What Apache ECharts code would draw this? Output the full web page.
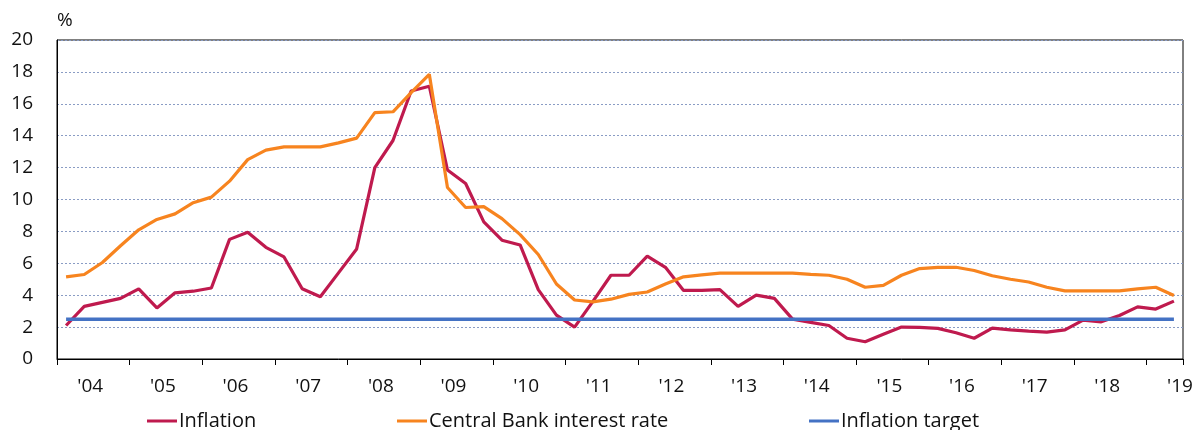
<!DOCTYPE html>
<html>
<head>
<meta charset="utf-8">
<script src="https://cdn.jsdelivr.net/npm/echarts@6/dist/echarts.min.js"></script>
<style>
  html, body { margin: 0; padding: 0; background: #fff; }
  #chart { width: 1200px; height: 430px; }
</style>
</head>
<body>
<div id="chart"></div>
<script>
// Quarterly observations, 2004 Q1 – 2019 Q2
const quarters = [];
for (let y = 2004; y <= 2019; y++) {
  for (let q = 1; q <= 4; q++) {
    if (y === 2019 && q > 2) break;
    quarters.push(y + ' Q' + q);
  }
}

// Year labels shown under the axis
const yearLabels = ["'04", "'05", "'06", "'07", "'08", "'09", "'10", "'11",
                    "'12", "'13", "'14", "'15", "'16", "'17", "'18", "'19"];

// Consumer price inflation, % y/y
const inflation = [
  2.1, 3.3, 3.55, 3.8, 4.4, 3.2, 4.15, 4.25,
  4.45, 7.5, 7.95, 7.0, 6.4, 4.4, 3.9, 5.4,
  6.9, 12.0, 13.7, 16.8, 17.1, 11.85, 11.0, 8.6,
  7.45, 7.15, 4.35, 2.75, 2.0, 3.6, 5.25, 5.25,
  6.45, 5.75, 4.3, 4.3, 4.35, 3.3, 4.0, 3.8,
  2.5, 2.3, 2.1, 1.3, 1.08, 1.55, 2.0, 1.98,
  1.92, 1.65, 1.3, 1.93, 1.83, 1.75, 1.68, 1.83,
  2.44, 2.33, 2.73, 3.27, 3.13, 3.63
];

// Central Bank policy rate, %
const policyRate = [
  5.15, 5.3, 6.05, 7.1, 8.1, 8.75, 9.1, 9.8,
  10.15, 11.15, 12.5, 13.1, 13.3, 13.3, 13.3, 13.55,
  13.85, 15.45, 15.5, 16.7, 17.85, 10.75, 9.5, 9.55,
  8.8, 7.8, 6.55, 4.7, 3.7, 3.58, 3.75, 4.05,
  4.2, 4.7, 5.15, 5.27, 5.38, 5.38, 5.38, 5.38,
  5.38, 5.3, 5.25, 5.0, 4.5, 4.62, 5.25, 5.67,
  5.75, 5.75, 5.55, 5.22, 5.0, 4.83, 4.5, 4.27,
  4.27, 4.27, 4.27, 4.4, 4.5, 3.98
];

// Inflation target, %
const targetLevel = 2.5;
const inflationTarget = quarters.map(() => targetLevel);

const FONT = '"Open Sans", "Noto Sans", sans-serif';
const COLORS = { inflation: '#BF1A4E', rate: '#F7841F', target: '#4472C4' };

const chart = echarts.init(document.getElementById('chart'), null, { renderer: 'canvas' });

function legendAt(name, left) {
  return {
    data: [name],
    left: left,
    top: 411,
    icon: 'rect',
    itemWidth: 30,
    itemHeight: 3,
    padding: 0,
    textStyle: { fontFamily: FONT, fontSize: 20, color: '#111', padding: [0, 0, 0, -3] },
    selectedMode: false
  };
}

chart.setOption({
  animation: false,
  backgroundColor: '#fff',
  grid: {
    left: 57, right: 17, top: 40, bottom: 71,
    show: true, borderColor: '#000', borderWidth: 1
  },
  legend: [
    legendAt('Inflation', 147),
    legendAt('Central Bank interest rate', 397),
    legendAt('Inflation target', 809)
  ],
  xAxis: {
    type: 'category',
    data: quarters,
    boundaryGap: true,
    axisLine: { show: true, lineStyle: { color: '#000', width: 1 } },
    axisTick: {
      show: true,
      length: 6,
      interval: (idx) => idx % 4 === 0,
      lineStyle: { color: '#000', width: 1 }
    },
    axisLabel: {
      interval: (idx) => idx % 4 === 1,
      formatter: (val, idx) => yearLabels[Math.floor(idx / 4)],
      fontFamily: FONT,
      fontSize: 19,
      color: '#111',
      margin: 18,
      padding: [0, 0, 0, 12]
    },
    splitLine: { show: false }
  },
  yAxis: {
    type: 'value',
    min: 0, max: 20, interval: 2,
    name: '%',
    nameLocation: 'end',
    nameGap: 10,
    nameTextStyle: { fontFamily: FONT, fontSize: 19, color: '#111', align: 'left' },
    axisLine: { show: true, lineStyle: { color: '#000', width: 1 } },
    axisTick: { show: false },
    axisLabel: { fontFamily: FONT, fontSize: 19, color: '#111', margin: 24 },
    splitLine: { show: true, lineStyle: { color: '#8A9CC4', type: [2, 2], width: 1 } }
  },
  series: [
    {
      name: 'Inflation', type: 'line', data: inflation,
      symbol: 'none', lineStyle: { color: COLORS.inflation, width: 3.2 },
      itemStyle: { color: COLORS.inflation }
    },
    {
      name: 'Central Bank interest rate', type: 'line', data: policyRate,
      symbol: 'none', lineStyle: { color: COLORS.rate, width: 3.2 },
      itemStyle: { color: COLORS.rate }
    },
    {
      name: 'Inflation target', type: 'line', data: inflationTarget,
      symbol: 'none', lineStyle: { color: COLORS.target, width: 3.5 },
      itemStyle: { color: COLORS.target }
    }
  ]
});
</script>
</body>
</html>
